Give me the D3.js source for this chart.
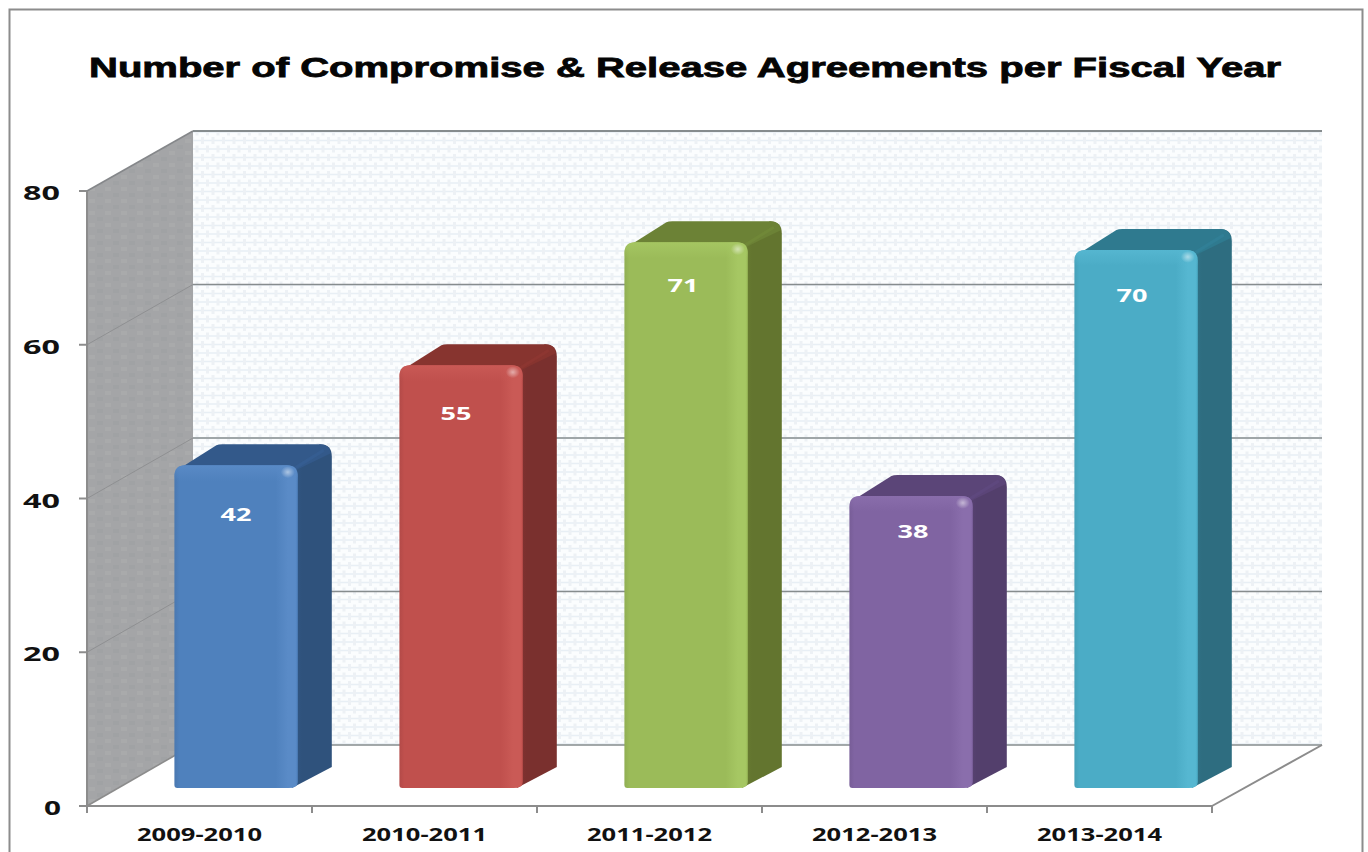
<!DOCTYPE html>
<html><head><meta charset="utf-8">
<script src="https://cdn.jsdelivr.net/npm/d3@7"></script>
<style>html,body{margin:0;padding:0;background:#fff;overflow:hidden}svg{display:block}text{font-family:"Noto Sans",sans-serif}</style>
</head><body><svg id="c" width="1368" height="852"></svg>
<script>
const categories = ["2009-2010","2010-2011","2011-2012","2012-2013","2013-2014"];
const values = [42,55,71,38,70];
const yTicks = [0,20,40,60,80];
const titleText = "Number of Compromise & Release Agreements per Fiscal Year";
const faceColors = ["#4f81bd","#c0504d","#9bbb59","#8064a2","#4bacc6"];
const sideColors = ["#2f527c","#7a302e","#63752f","#533f6c","#2e6d80"];
const topColors  = ["#33598a","#87342f","#6c8236","#5b4578","#2f7a8f"];
const edgeColors = ["#5a8bc7","#ca5a56","#a6c763","#8a6eac","#56b7d1"];
const labelGaps = [56,55,50,42,52];
const labelShift = [0,-5,-3,2,-4];

const svg = d3.select("#c");
const defs = svg.append("defs");
const yFront = d3.scaleLinear().domain([0,80]).range([806,191]);
const yBack  = d3.scaleLinear().domain([0,80]).range([745,131]);
const yBar   = d3.scaleLinear().domain([0,80]).range([788,173]);
const xFront = d3.scaleBand().domain(categories).range([87,1212]);
const depthX = 106, backRight = 1322, barOffset = 87.4, barW = 123.4, sideX = 34, sideY = 21, r = 11;

// wall patterns
const pb = defs.append("pattern").attr("id","wallBack").attr("width",21).attr("height",17).attr("patternUnits","userSpaceOnUse");
pb.append("rect").attr("width",21).attr("height",17).attr("fill","#fbfdfe");
pb.append("path").attr("d","M0 4.5H21M0 13H21").attr("stroke","#e8eff5").attr("stroke-width",1.3);
pb.append("path").attr("d","M3 1v7M13.5 1v7M8 9.5v7M18.5 9.5v7").attr("stroke","#edf1f5").attr("stroke-width",3);
const pl = defs.append("pattern").attr("id","wallLeft").attr("width",16).attr("height",12).attr("patternUnits","userSpaceOnUse");
pl.append("rect").attr("width",16).attr("height",12).attr("fill","#a4a5a7");
pl.append("rect").attr("x",1).attr("y",1).attr("width",6).attr("height",4).attr("fill","#a0a2a4");
pl.append("rect").attr("x",9).attr("y",7).attr("width",6).attr("height",4).attr("fill","#a9aaab");

categories.forEach((c,i)=>{
  const g = defs.append("linearGradient").attr("id","face"+i);
  const base = d3.color(faceColors[i]);
  [[0,base.darker(0.2)],[0.04,base],[0.82,base],[0.92,d3.color(edgeColors[i])],[0.98,d3.color(edgeColors[i])],[1,base]]
    .forEach(([o,col])=>g.append("stop").attr("offset",o).attr("stop-color",col));
  const t = defs.append("radialGradient").attr("id","spot"+i);
  t.append("stop").attr("offset",0).attr("stop-color","#fff").attr("stop-opacity",0.5);
  t.append("stop").attr("offset",1).attr("stop-color","#fff").attr("stop-opacity",0);
  const v = defs.append("linearGradient").attr("id","sheen"+i).attr("x1",0).attr("x2",0).attr("y1",0).attr("y2",1);
  v.append("stop").attr("offset",0).attr("stop-color",edgeColors[i]).attr("stop-opacity",0.9);
  v.append("stop").attr("offset",1).attr("stop-color",edgeColors[i]).attr("stop-opacity",0);
  const s = defs.append("linearGradient").attr("id","side"+i);
  s.append("stop").attr("offset",0).attr("stop-color",d3.color(sideColors[i]).brighter(0.25));
  s.append("stop").attr("offset",0.25).attr("stop-color",sideColors[i]);
  s.append("stop").attr("offset",1).attr("stop-color",sideColors[i]);
});

// frame
svg.append("path").attr("d","M9.5 852V9.5H1362.5V852").attr("fill","none").attr("stroke","#8c8c8c").attr("stroke-width",2);

// title
svg.append("text").attr("x",89).attr("y",77).attr("textLength",1192).attr("lengthAdjust","spacingAndGlyphs")
  .attr("font-size",27.5).attr("font-weight","bold").attr("fill","#050505").style("font-family","'Liberation Sans'").style("stroke","#050505").style("stroke-width",0.8).text(titleText);

const x0 = xFront.range()[0], x1 = xFront.range()[1];
const bx0 = x0 + depthX;

// back wall
svg.append("path").attr("fill","url(#wallBack)")
  .attr("d",d3.line()([[bx0,yBack(80)],[backRight,yBack(80)],[backRight,yBack(0)],[bx0,yBack(0)]])+"Z");
// left wall
svg.append("path").attr("fill","url(#wallLeft)")
  .attr("d",d3.line()([[x0,yFront(80)],[bx0,yBack(80)],[bx0,yBack(0)],[x0,yFront(0)]])+"Z");

// gridlines: back and side
const grid = svg.append("g").attr("fill","none").attr("stroke","#868c8e");
yTicks.forEach(t=>{
  grid.append("path").attr("stroke-width",t===80?2:1.6)
    .attr("d",d3.line()([[bx0,yBack(t)],[backRight,yBack(t)]]));
  if(t>0&&t<80) grid.append("path").attr("stroke-width",1).attr("stroke","#8f9092")
    .attr("d",d3.line()([[x0,yFront(t)],[bx0,yBack(t)]]));
});
svg.append("path").attr("fill","none").attr("stroke","#85878a").attr("stroke-width",1.6)
  .attr("d",d3.line()([[x0,yFront(80)],[bx0,yBack(80)]]));
svg.append("path").attr("fill","none").attr("stroke","#8c8c8c").attr("stroke-width",1.6)
  .attr("d",d3.line()([[x0,yFront(0)],[bx0,yBack(0)]]));
svg.append("path").attr("fill","none").attr("stroke","#8c8c8c").attr("stroke-width",2)
  .attr("d",d3.line()([[x1,yFront(0)],[backRight,yBack(0)]]));

// bars
const bars = svg.append("g").selectAll("g").data(values).join("g");
bars.each(function(v,i){
  const g = d3.select(this);
  const L = xFront(categories[i]) + barOffset, R = L + barW, T = yBar(v), B = yBar(0);
  // side
  g.append("path").attr("fill",`url(#side${i})`)
    .attr("d",`M${R-6} ${T}L${R+sideX-12} ${T-sideY}Q${R+sideX} ${T-sideY} ${R+sideX} ${T-sideY+12}L${R+sideX} ${B-sideY}L${R-6} ${B}Z`);
  // top
  g.append("path").attr("fill",topColors[i])
    .attr("d",`M${L+4} ${T+4}L${L+42} ${T-sideY+1}Q${L+44} ${T-sideY} ${L+48} ${T-sideY}H${R+sideX-12}Q${R+sideX-2} ${T-sideY} ${R+sideX-1} ${T-sideY+9}L${R-4} ${T+6}Z`);
  // top-right crease
  g.append("path").attr("fill","none").attr("stroke",d3.color(topColors[i]).brighter(0.3)).attr("stroke-width",3).attr("opacity",0.4)
    .attr("d",`M${R-3} ${T+3}L${R+sideX-8} ${T-sideY+6}`);
  // front
  g.append("path").attr("fill",`url(#face${i})`)
    .attr("d",`M${L} ${B-3}V${T+r}Q${L} ${T} ${L+r} ${T}H${R-r}Q${R} ${T} ${R} ${T+r}V${B-6}Q${R} ${B} ${R-9} ${B}H${L+3}Q${L} ${B} ${L} ${B-3}Z`);
  // top sheen
  g.append("path").attr("fill",`url(#sheen${i})`)
    .attr("d",`M${L} ${T+16}V${T+r}Q${L} ${T} ${L+r} ${T}H${R-r}Q${R} ${T} ${R} ${T+r}V${T+16}Z`);
  g.append("ellipse").attr("cx",R-10).attr("cy",T+7).attr("rx",7).attr("ry",6).attr("fill",`url(#spot${i})`);
  g.append("text").attr("x",(L+R)/2+labelShift[i]-15.5).attr("y",T+labelGaps[i]).attr("textLength",31).attr("lengthAdjust","spacingAndGlyphs")
    .attr("fill","#fff").attr("font-weight","bold").attr("font-size",18.5).text(v);
});

// axes
const axisG = svg.append("g").attr("fill","none").attr("stroke","#8c8c8c").attr("stroke-width",2);
axisG.append("path").attr("d",`M${x0} ${yFront(80)}V${yFront(0)}H${x1}`);
yTicks.forEach(t=>axisG.append("path").attr("d",`M${x0-8} ${yFront(t)}H${x0}`));
xFront.domain().concat(["end"]).forEach((c,i)=>{
  const x = x0 + i*xFront.step();
  axisG.append("path").attr("d",`M${x} ${yFront(0)}v7`);
});
svg.append("g").selectAll("text").data(yTicks).join("text")
  .attr("x",d=>d===0?44:23).attr("y",d=>yFront(d)+9).attr("textLength",d=>d===0?17:37).attr("lengthAdjust","spacingAndGlyphs")
  .attr("font-size",20).attr("font-weight","bold").attr("fill","#111").text(d=>d);
svg.append("g").selectAll("text").data(categories).join("text")
  .attr("x",d=>xFront(d)+xFront.bandwidth()/2-62.5).attr("y",841).attr("textLength",125).attr("lengthAdjust","spacingAndGlyphs")
  .attr("font-size",18).attr("font-weight","bold").attr("fill","#111").text(d=>d);
</script></body></html>
